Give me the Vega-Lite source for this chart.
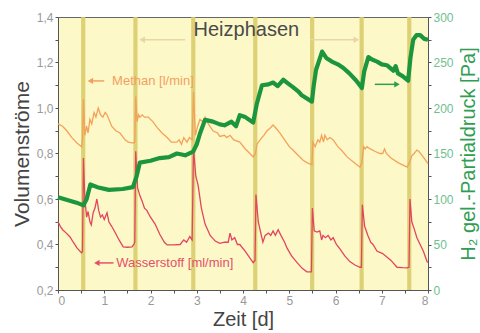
{
  "$schema": "https://vega.github.io/schema/vega-lite/v6.json",
  "width": 370,
  "height": 273,
  "autosize": "none",
  "padding": {"left": 58, "top": 17, "right": 52, "bottom": 43},
  "background": "white",
  "config": {
    "view": {"fill": "#fdf8c8", "stroke": "#666", "strokeWidth": 1},
    "font": "Liberation Sans",
    "axis": {"labelFont": "Liberation Sans", "titleFont": "Liberation Sans", "titleFontWeight": "normal", "grid": false}
  },
  "datasets": {
    "phasen": [
      {"start": 0.5, "end": 0.59},
      {"start": 1.63, "end": 1.72},
      {"start": 2.88, "end": 2.97},
      {"start": 4.22, "end": 4.31},
      {"start": 5.45, "end": 5.54},
      {"start": 6.52, "end": 6.61},
      {"start": 7.55, "end": 7.64}
    ],
    "methan": [
      {"t": 0, "v": 0.93}, {"t": 0.1, "v": 0.92}, {"t": 0.19, "v": 0.9}, {"t": 0.3, "v": 0.87},
      {"t": 0.41, "v": 0.846}, {"t": 0.51, "v": 0.83}, {"t": 0.53, "v": 0.86}, {"t": 0.55, "v": 1.04},
      {"t": 0.58, "v": 0.88}, {"t": 0.62, "v": 0.92}, {"t": 0.65, "v": 0.89}, {"t": 0.69, "v": 0.95},
      {"t": 0.73, "v": 0.93}, {"t": 0.78, "v": 0.98}, {"t": 0.82, "v": 0.96}, {"t": 0.87, "v": 1.0},
      {"t": 0.92, "v": 0.97}, {"t": 0.97, "v": 0.96}, {"t": 1.02, "v": 0.98}, {"t": 1.06, "v": 0.97},
      {"t": 1.16, "v": 0.92}, {"t": 1.25, "v": 0.9}, {"t": 1.34, "v": 0.89}, {"t": 1.45, "v": 0.86},
      {"t": 1.52, "v": 0.85}, {"t": 1.63, "v": 0.846}, {"t": 1.66, "v": 0.85}, {"t": 1.68, "v": 1.05},
      {"t": 1.71, "v": 0.94}, {"t": 1.74, "v": 0.97}, {"t": 1.77, "v": 0.96}, {"t": 1.82, "v": 0.97},
      {"t": 1.87, "v": 0.96}, {"t": 1.95, "v": 0.96}, {"t": 2.05, "v": 0.94}, {"t": 2.14, "v": 0.915},
      {"t": 2.25, "v": 0.89}, {"t": 2.36, "v": 0.87}, {"t": 2.45, "v": 0.85}, {"t": 2.57, "v": 0.85},
      {"t": 2.62, "v": 0.86}, {"t": 2.67, "v": 0.84}, {"t": 2.72, "v": 0.87}, {"t": 2.79, "v": 0.85},
      {"t": 2.84, "v": 0.87}, {"t": 2.9, "v": 0.86}, {"t": 2.93, "v": 1.07}, {"t": 2.97, "v": 0.88},
      {"t": 3.02, "v": 0.92}, {"t": 3.07, "v": 0.95}, {"t": 3.13, "v": 0.94}, {"t": 3.18, "v": 0.96},
      {"t": 3.25, "v": 0.93}, {"t": 3.35, "v": 0.9}, {"t": 3.45, "v": 0.89}, {"t": 3.5, "v": 0.875},
      {"t": 3.6, "v": 0.88}, {"t": 3.65, "v": 0.87}, {"t": 3.72, "v": 0.88}, {"t": 3.8, "v": 0.86},
      {"t": 3.93, "v": 0.85}, {"t": 4.05, "v": 0.82}, {"t": 4.15, "v": 0.8}, {"t": 4.22, "v": 0.785},
      {"t": 4.27, "v": 0.8}, {"t": 4.3, "v": 0.84}, {"t": 4.37, "v": 0.86}, {"t": 4.45, "v": 0.88},
      {"t": 4.52, "v": 0.9}, {"t": 4.58, "v": 0.91}, {"t": 4.65, "v": 0.925}, {"t": 4.72, "v": 0.91},
      {"t": 4.8, "v": 0.89}, {"t": 4.9, "v": 0.86}, {"t": 5.0, "v": 0.83}, {"t": 5.08, "v": 0.815},
      {"t": 5.2, "v": 0.79}, {"t": 5.3, "v": 0.77}, {"t": 5.38, "v": 0.76}, {"t": 5.49, "v": 0.75},
      {"t": 5.51, "v": 0.85}, {"t": 5.56, "v": 0.83}, {"t": 5.62, "v": 0.86}, {"t": 5.66, "v": 0.85},
      {"t": 5.7, "v": 0.88}, {"t": 5.74, "v": 0.85}, {"t": 5.77, "v": 0.88}, {"t": 5.82, "v": 0.86},
      {"t": 5.88, "v": 0.87}, {"t": 5.95, "v": 0.86}, {"t": 6.05, "v": 0.83}, {"t": 6.15, "v": 0.81},
      {"t": 6.25, "v": 0.785}, {"t": 6.4, "v": 0.76}, {"t": 6.53, "v": 0.74}, {"t": 6.57, "v": 0.76},
      {"t": 6.61, "v": 0.83}, {"t": 6.64, "v": 0.82}, {"t": 6.68, "v": 0.83}, {"t": 6.75, "v": 0.82},
      {"t": 6.85, "v": 0.81}, {"t": 6.96, "v": 0.8}, {"t": 7.02, "v": 0.8}, {"t": 7.06, "v": 0.82},
      {"t": 7.1, "v": 0.8}, {"t": 7.2, "v": 0.78}, {"t": 7.35, "v": 0.76}, {"t": 7.45, "v": 0.75},
      {"t": 7.55, "v": 0.74}, {"t": 7.6, "v": 0.76}, {"t": 7.65, "v": 0.79}, {"t": 7.7, "v": 0.8},
      {"t": 7.76, "v": 0.815}, {"t": 7.8, "v": 0.81}, {"t": 7.88, "v": 0.79}, {"t": 7.95, "v": 0.77},
      {"t": 8.0, "v": 0.755}
    ],
    "wasserstoff": [
      {"t": 0, "v": 0.5}, {"t": 0.05, "v": 0.48}, {"t": 0.1, "v": 0.465}, {"t": 0.18, "v": 0.45},
      {"t": 0.26, "v": 0.433}, {"t": 0.33, "v": 0.41}, {"t": 0.41, "v": 0.385}, {"t": 0.51, "v": 0.363},
      {"t": 0.53, "v": 0.37}, {"t": 0.55, "v": 0.78}, {"t": 0.58, "v": 0.6}, {"t": 0.62, "v": 0.52},
      {"t": 0.65, "v": 0.545}, {"t": 0.69, "v": 0.5}, {"t": 0.72, "v": 0.486}, {"t": 0.76, "v": 0.54},
      {"t": 0.8, "v": 0.56}, {"t": 0.84, "v": 0.6}, {"t": 0.88, "v": 0.55}, {"t": 0.92, "v": 0.52},
      {"t": 0.96, "v": 0.53}, {"t": 1.0, "v": 0.51}, {"t": 1.06, "v": 0.54}, {"t": 1.1, "v": 0.5},
      {"t": 1.16, "v": 0.48}, {"t": 1.23, "v": 0.455}, {"t": 1.32, "v": 0.42}, {"t": 1.41, "v": 0.39},
      {"t": 1.5, "v": 0.388}, {"t": 1.6, "v": 0.39}, {"t": 1.64, "v": 0.4}, {"t": 1.66, "v": 0.41},
      {"t": 1.68, "v": 0.81}, {"t": 1.72, "v": 0.65}, {"t": 1.77, "v": 0.615}, {"t": 1.82, "v": 0.59},
      {"t": 1.87, "v": 0.56}, {"t": 1.92, "v": 0.55}, {"t": 2.0, "v": 0.52}, {"t": 2.1, "v": 0.49},
      {"t": 2.2, "v": 0.445}, {"t": 2.3, "v": 0.41}, {"t": 2.36, "v": 0.398}, {"t": 2.5, "v": 0.398},
      {"t": 2.64, "v": 0.4}, {"t": 2.72, "v": 0.42}, {"t": 2.78, "v": 0.41}, {"t": 2.85, "v": 0.435},
      {"t": 2.9, "v": 0.42}, {"t": 2.93, "v": 0.82}, {"t": 2.98, "v": 0.7}, {"t": 3.03, "v": 0.66},
      {"t": 3.1, "v": 0.56}, {"t": 3.18, "v": 0.49}, {"t": 3.29, "v": 0.44}, {"t": 3.4, "v": 0.415},
      {"t": 3.5, "v": 0.405}, {"t": 3.6, "v": 0.41}, {"t": 3.68, "v": 0.41}, {"t": 3.72, "v": 0.45},
      {"t": 3.76, "v": 0.42}, {"t": 3.82, "v": 0.43}, {"t": 3.88, "v": 0.4}, {"t": 3.93, "v": 0.4},
      {"t": 4.05, "v": 0.37}, {"t": 4.15, "v": 0.34}, {"t": 4.22, "v": 0.32}, {"t": 4.26, "v": 0.33},
      {"t": 4.28, "v": 0.62}, {"t": 4.33, "v": 0.5}, {"t": 4.38, "v": 0.455}, {"t": 4.43, "v": 0.41},
      {"t": 4.48, "v": 0.44}, {"t": 4.55, "v": 0.45}, {"t": 4.6, "v": 0.44}, {"t": 4.65, "v": 0.46},
      {"t": 4.7, "v": 0.44}, {"t": 4.76, "v": 0.465}, {"t": 4.82, "v": 0.44}, {"t": 4.9, "v": 0.41},
      {"t": 4.95, "v": 0.385}, {"t": 5.05, "v": 0.35}, {"t": 5.17, "v": 0.32}, {"t": 5.28, "v": 0.295},
      {"t": 5.38, "v": 0.28}, {"t": 5.48, "v": 0.28}, {"t": 5.5, "v": 0.56}, {"t": 5.54, "v": 0.46},
      {"t": 5.6, "v": 0.455}, {"t": 5.66, "v": 0.46}, {"t": 5.7, "v": 0.42}, {"t": 5.73, "v": 0.44},
      {"t": 5.78, "v": 0.43}, {"t": 5.84, "v": 0.44}, {"t": 5.9, "v": 0.42}, {"t": 5.95, "v": 0.43},
      {"t": 6.02, "v": 0.4}, {"t": 6.1, "v": 0.38}, {"t": 6.2, "v": 0.35}, {"t": 6.31, "v": 0.325},
      {"t": 6.42, "v": 0.31}, {"t": 6.53, "v": 0.3}, {"t": 6.56, "v": 0.3}, {"t": 6.58, "v": 0.575},
      {"t": 6.63, "v": 0.48}, {"t": 6.7, "v": 0.44}, {"t": 6.76, "v": 0.41}, {"t": 6.81, "v": 0.4},
      {"t": 6.9, "v": 0.37}, {"t": 6.96, "v": 0.365}, {"t": 7.02, "v": 0.36}, {"t": 7.11, "v": 0.345},
      {"t": 7.2, "v": 0.33}, {"t": 7.33, "v": 0.3}, {"t": 7.45, "v": 0.298}, {"t": 7.55, "v": 0.297},
      {"t": 7.59, "v": 0.3}, {"t": 7.61, "v": 0.6}, {"t": 7.65, "v": 0.5}, {"t": 7.7, "v": 0.47},
      {"t": 7.76, "v": 0.43}, {"t": 7.83, "v": 0.4}, {"t": 7.9, "v": 0.37}, {"t": 7.98, "v": 0.325},
      {"t": 8.0, "v": 0.32}
    ],
    "druck": [
      {"t": 0, "p": 102}, {"t": 0.2, "p": 99}, {"t": 0.4, "p": 96}, {"t": 0.55, "p": 93},
      {"t": 0.62, "p": 100}, {"t": 0.7, "p": 116}, {"t": 0.85, "p": 113}, {"t": 1.1, "p": 110},
      {"t": 1.4, "p": 111}, {"t": 1.62, "p": 113}, {"t": 1.7, "p": 125}, {"t": 1.77, "p": 140},
      {"t": 2.0, "p": 142}, {"t": 2.2, "p": 145}, {"t": 2.4, "p": 146}, {"t": 2.57, "p": 150},
      {"t": 2.75, "p": 148}, {"t": 2.92, "p": 152}, {"t": 3.0, "p": 160}, {"t": 3.07, "p": 172},
      {"t": 3.18, "p": 187}, {"t": 3.35, "p": 185}, {"t": 3.5, "p": 182}, {"t": 3.6, "p": 181},
      {"t": 3.75, "p": 185}, {"t": 3.85, "p": 180}, {"t": 3.93, "p": 192}, {"t": 4.05, "p": 190},
      {"t": 4.22, "p": 184}, {"t": 4.3, "p": 205}, {"t": 4.41, "p": 225}, {"t": 4.55, "p": 226},
      {"t": 4.65, "p": 228}, {"t": 4.75, "p": 224}, {"t": 4.87, "p": 231}, {"t": 5.0, "p": 226},
      {"t": 5.08, "p": 223}, {"t": 5.2, "p": 218}, {"t": 5.27, "p": 214}, {"t": 5.49, "p": 207},
      {"t": 5.53, "p": 225}, {"t": 5.58, "p": 242}, {"t": 5.71, "p": 262}, {"t": 5.8, "p": 255},
      {"t": 5.92, "p": 251}, {"t": 6.05, "p": 248}, {"t": 6.17, "p": 244}, {"t": 6.3, "p": 238},
      {"t": 6.45, "p": 230}, {"t": 6.57, "p": 222}, {"t": 6.62, "p": 240}, {"t": 6.71, "p": 256},
      {"t": 6.8, "p": 253}, {"t": 6.9, "p": 251}, {"t": 7.0, "p": 248}, {"t": 7.11, "p": 247},
      {"t": 7.25, "p": 241}, {"t": 7.3, "p": 246}, {"t": 7.35, "p": 238}, {"t": 7.45, "p": 235},
      {"t": 7.57, "p": 230}, {"t": 7.62, "p": 255}, {"t": 7.68, "p": 275}, {"t": 7.75, "p": 280},
      {"t": 7.83, "p": 280}, {"t": 7.92, "p": 276}, {"t": 8.0, "p": 275}
    ],
    "pfeile": [
      {"von": 2.75, "bis": 1.82, "v": 1.30, "farbe": "#e8d6a4", "kopf": "triangle-left"},
      {"von": 5.45, "bis": 6.45, "v": 1.30, "farbe": "#e8d6a4", "kopf": "triangle-right"},
      {"von": 1.0, "bis": 0.7, "v": 1.119, "farbe": "#f2a060", "kopf": "triangle-left"},
      {"von": 1.2, "bis": 0.84, "v": 0.319, "farbe": "#e4506a", "kopf": "triangle-left"}
    ],
    "beschriftung": [
      {"t": 2.93, "v": 1.343, "text": "Heizphasen", "farbe": "#4a4a4a", "groesse": 20},
      {"t": 1.17, "v": 1.119, "text": "Methan [l/min]", "farbe": "#f2a060", "groesse": 13},
      {"t": 1.26, "v": 0.319, "text": "Wasserstoff [ml/min]", "farbe": "#e4506a", "groesse": 13}
    ],
    "druckpfeil": [
      {"von": 6.85, "bis": 7.33, "p": 226}
    ]
  },
  "encoding": {
    "x": {
      "type": "quantitative",
      "scale": {"domain": [0, 8], "nice": false, "zero": false},
      "axis": {
        "title": "Zeit [d]",
        "values": [0, 0.5, 1, 1.5, 2, 2.5, 3, 3.5, 4, 4.5, 5, 5.5, 6, 6.5, 7, 7.5, 8],
        "labelExpr": "datum.value % 1 === 0 ? format(datum.value, 'd') : ''",
        "labelColor": "#999999", "labelFontSize": 12, "titleFontSize": 20, "titleColor": "#444444",
        "domainColor": "#555555", "tickColor": "#555555", "tickSize": 3, "titlePadding": 3, "labelPadding": 2
      }
    }
  },
  "layer": [
    {
      "data": {"name": "phasen"},
      "mark": {"type": "rect", "color": "#d9cb6c", "opacity": 0.9},
      "encoding": {"x": {"field": "start"}, "x2": {"field": "end"}}
    },
    {
      "data": {"name": "methan"},
      "mark": {"type": "line", "color": "#f3a25a", "strokeWidth": 1.3},
      "encoding": {
        "x": {"field": "t"},
        "y": {
          "field": "v", "type": "quantitative",
          "scale": {"domain": [0.2, 1.4], "nice": false, "zero": false},
          "axis": {
            "title": "Volumenströme", "orient": "left",
            "values": [0.2, 0.3, 0.4, 0.5, 0.6, 0.7, 0.8, 0.9, 1.0, 1.1, 1.2, 1.3, 1.4],
            "labelExpr": "round(datum.value * 10) % 2 === 0 ? replace(format(datum.value, '.1f'), '.', ',') : ''",
            "labelColor": "#999999", "labelFontSize": 12, "titleFontSize": 21, "titleColor": "#444444",
            "domainColor": "#555555", "tickColor": "#555555", "tickSize": 3, "titlePadding": 4
          }
        }
      }
    },
    {
      "data": {"name": "wasserstoff"},
      "mark": {"type": "line", "color": "#e2455e", "strokeWidth": 1.3},
      "encoding": {
        "x": {"field": "t"},
        "y": {"field": "v", "type": "quantitative", "scale": {"domain": [0.2, 1.4], "nice": false, "zero": false}, "axis": null}
      }
    },
    {
      "data": {"name": "druck"},
      "mark": {"type": "line", "color": "#1b963f", "strokeWidth": 4.2, "strokeJoin": "round"},
      "encoding": {
        "x": {"field": "t"},
        "y": {
          "field": "p", "type": "quantitative",
          "scale": {"domain": [0, 300], "nice": false},
          "axis": {
            "title": "H₂ gel.-Partialdruck [Pa]", "orient": "right", "titleAngle": 270, "titleBaseline": "top",
            "values": [0, 25, 50, 75, 100, 125, 150, 175, 200, 225, 250, 275, 300],
            "labelExpr": "datum.value % 50 === 0 ? format(datum.value, 'd') : ''",
            "labelColor": "#6fbf90", "labelFontSize": 12, "titleFontSize": 20, "titleColor": "#2f9e52",
            "domainColor": "#555555", "tickColor": "#555555", "tickSize": 3, "titlePadding": 5
          }
        }
      }
    },
    {
      "data": {"name": "pfeile"},
      "mark": {"type": "rule", "strokeWidth": 1.5},
      "encoding": {
        "x": {"field": "von"},
        "x2": {"field": "bis"},
        "y": {"field": "v", "type": "quantitative", "scale": {"domain": [0.2, 1.4], "nice": false, "zero": false}, "axis": null},
        "color": {"field": "farbe", "type": "nominal", "scale": null}
      }
    },
    {
      "data": {"name": "pfeile"},
      "mark": {"type": "point", "filled": true, "size": 40, "opacity": 1},
      "encoding": {
        "x": {"field": "bis"},
        "y": {"field": "v", "type": "quantitative", "scale": {"domain": [0.2, 1.4], "nice": false, "zero": false}, "axis": null},
        "shape": {"field": "kopf", "type": "nominal", "scale": null},
        "color": {"field": "farbe", "type": "nominal", "scale": null}
      }
    },
    {
      "data": {"name": "beschriftung"},
      "mark": {"type": "text", "baseline": "middle", "align": "left", "font": "Liberation Sans"},
      "encoding": {
        "x": {"field": "t"},
        "y": {"field": "v", "type": "quantitative", "scale": {"domain": [0.2, 1.4], "nice": false, "zero": false}, "axis": null},
        "text": {"field": "text"},
        "color": {"field": "farbe", "type": "nominal", "scale": null},
        "size": {"field": "groesse", "type": "quantitative", "scale": null}
      }
    },
    {
      "data": {"name": "druckpfeil"},
      "mark": {"type": "rule", "color": "#2a9e50", "strokeWidth": 1.5},
      "encoding": {
        "x": {"field": "von"},
        "x2": {"field": "bis"},
        "y": {"field": "p", "type": "quantitative", "scale": {"domain": [0, 300], "nice": false}, "axis": null}
      }
    },
    {
      "data": {"name": "druckpfeil"},
      "mark": {"type": "point", "shape": "triangle-right", "filled": true, "size": 40, "color": "#2a9e50", "opacity": 1},
      "encoding": {
        "x": {"field": "bis"},
        "y": {"field": "p", "type": "quantitative", "scale": {"domain": [0, 300], "nice": false}, "axis": null}
      }
    }
  ],
  "resolve": {"scale": {"y": "independent"}}
}
